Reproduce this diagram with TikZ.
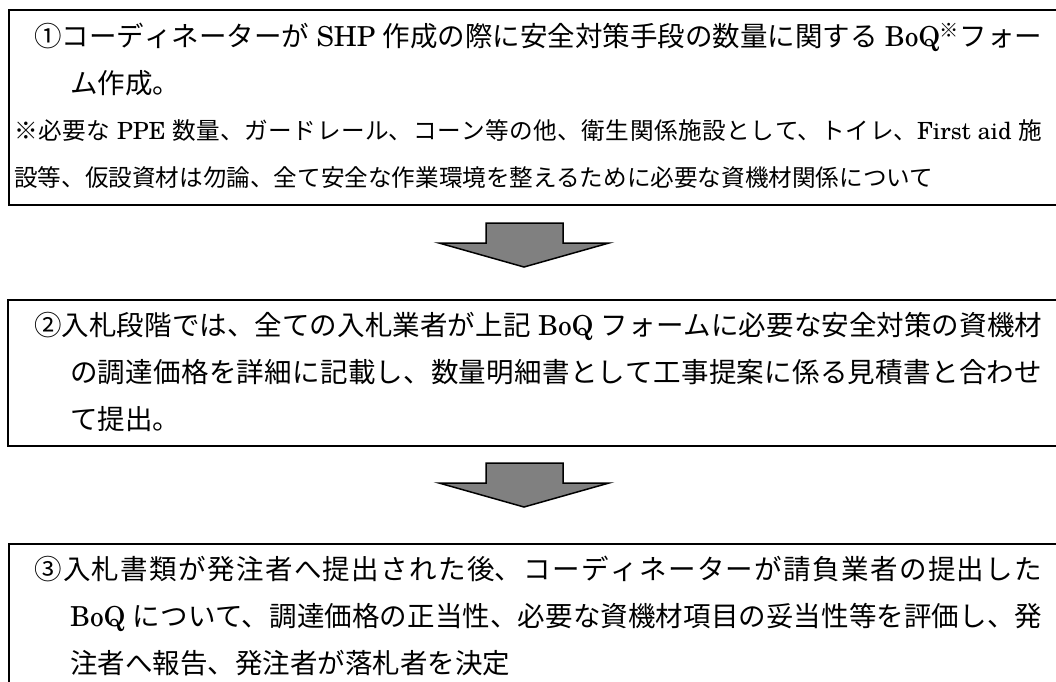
\documentclass[tikz,border=0pt]{standalone}
\usepackage{fontspec}
\setmainfont{texgyreschola-regular}[Extension=.otf, BoldFont=texgyreschola-bold, ItalicFont=texgyreschola-italic]
\newfontfamily\jp{Noto Sans CJK JP}
\XeTeXlinebreaklocale "ja"
\XeTeXlinebreakskip=0pt plus 6pt
\XeTeXlinebreakpenalty=10000
\definecolor{arrowgray}{RGB}{128,128,128}
\begin{document}
\begin{tikzpicture}[x=1pt,y=-1pt,
  box/.style={draw=black, line width=2.2pt, rectangle, inner sep=0pt},
  big/.style={font=\fontsize{27.5}{33}\selectfont},
  small/.style={font=\fontsize{23.6}{28}\selectfont},
  jl/.style={anchor=base west, inner sep=0pt, text width=#1, align=justify,
    execute at begin node={\parindent=0pt\parfillskip=0pt\relax}},
  nl/.style={anchor=base west, inner sep=0pt},
  blockarrow/.style={draw=black, line width=1.5pt, fill=arrowgray, line join=miter}]
\useasboundingbox (0,0) rectangle (1056,681);
\clip (0,0) rectangle (1056,681);
\fill[white] (0,0) rectangle (1056,681);

% boxes
\draw[box] (9,10) rectangle (1075,205);
\draw[box] (8,300) rectangle (1075,446);
\draw[box] (9,544) rectangle (1075,710);

% box 1 text
\node[big, jl=1008pt] (t11) at (34,46.5) {{\jp ①コーディネーターが}~SHP~{\jp 作成の際に安全対策手段の数量に関する}~BoQ\textsuperscript{\jp ※}{\jp フォー}};
\node[big, nl] (t12) at (70,93.5) {\jp ム作成。};
\node[small, jl=1028pt] (t13) at (14,139) {{\jp ※必要な}~PPE~{\jp 数量、ガードレール、コーン等の他、衛生関係施設として、トイレ、}First~aid~{\jp 施}};
\node[small, nl] (t14) at (14,186) {\jp 設等、仮設資材は勿論、全て安全な作業環境を整えるために必要な資機材関係について};

% arrow 1
\draw[blockarrow] (486,223) -- (563,223) -- (563,243) -- (609,243) -- (524,267) -- (439,243) -- (486,243) -- cycle;

% box 2 text
\node[big, jl=1008pt] (t21) at (34,335.5) {{\jp ②入札段階では、全ての入札業者が上記}~BoQ~{\jp フォームに必要な安全対策の資機材}};
\node[big, jl=972pt] (t22) at (70,382.5) {{\jp の調達価格を詳細に記載し、数量明細書として工事提案に係る見積書と合わせ}};
\node[big, nl] (t23) at (70,429.5) {\jp て提出。};

% arrow 2
\draw[blockarrow] (486,463) -- (563,463) -- (563,483) -- (609,483) -- (524,507) -- (439,483) -- (486,483) -- cycle;

% box 3 text
\node[big, jl=1008pt] (t31) at (34,579.5) {{\jp ③入札書類が発注者へ提出された後、コーディネーターが請負業者の提出した}};
\node[big, jl=972pt] (t32) at (70,626.5) {BoQ~{\jp について、調達価格の正当性、必要な資機材項目の妥当性等を評価し、発}};
\node[big, nl] (t33) at (70,673.5) {\jp 注者へ報告、発注者が落札者を決定};
\end{tikzpicture}
\end{document}
